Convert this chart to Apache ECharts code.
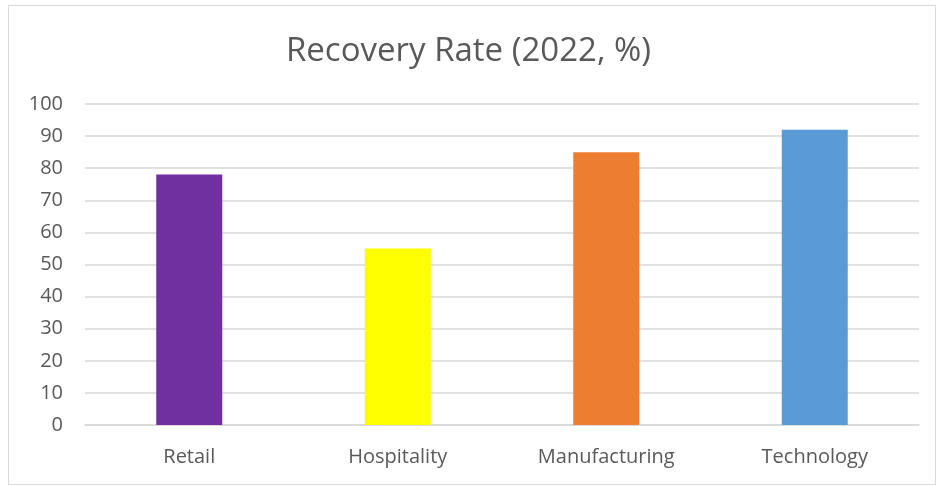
<!DOCTYPE html>
<html><head><meta charset="utf-8">
<script src="https://cdn.jsdelivr.net/npm/echarts@6/dist/echarts.min.js"></script>
<style>html,body{margin:0;padding:0;background:#fff}#c{width:937px;height:486px}
#b{position:absolute;left:8px;top:5px;width:926px;height:478px;border:1px solid #d9d9d9;pointer-events:none}</style>
</head><body><div id="c"></div><div id="b"></div>
<script>
const categories = ['Retail', 'Hospitality', 'Manufacturing', 'Technology'];
const values = [78, 55, 85, 92];
const colors = ['#7030A0', '#FFFF00', '#ED7D31', '#5B9BD5'];
const chart = echarts.init(document.getElementById('c'));
chart.setOption({
  animation: false,
  title: { text: 'Recovery Rate (2022, %)', left: 'center', top: 30,
    textStyle: { fontFamily: 'Open Sans', fontWeight: 'normal', fontSize: 33, color: '#595959' } },
  grid: { left: 85, right: 18, top: 104, bottom: 61 },
  xAxis: { type: 'category', data: categories,
    axisLine: { lineStyle: { color: '#d9d9d9', width: 1.5 } }, axisTick: { show: false },
    axisLabel: { color: '#595959', fontSize: 20, fontFamily: 'Open Sans', margin: 22 } },
  yAxis: { type: 'value', min: 0, max: 100, interval: 10,
    axisLine: { show: false }, axisTick: { show: false },
    splitLine: { lineStyle: { color: '#d9d9d9', width: 1.5 } },
    axisLabel: { color: '#595959', fontSize: 20, fontFamily: 'Open Sans', margin: 22 } },
  series: [{ type: 'bar', barWidth: 66,
    data: values.map((v, i) => ({ value: v, itemStyle: { color: colors[i] } })) }]
});
</script></body></html>
